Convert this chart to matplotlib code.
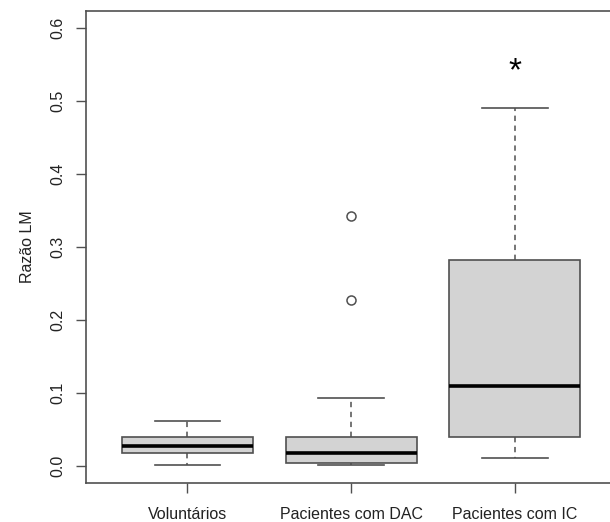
import matplotlib.pyplot as plt

plt.rcParams['font.family'] = ['Liberation Sans', 'DejaVu Sans']

# LM ratio per group (box summaries)
groups = ['Voluntários', 'Pacientes com DAC', 'Pacientes com IC']
whislo = [0.001, 0.001, 0.011]
q1 = [0.018, 0.004, 0.040]
med = [0.028, 0.018, 0.110]
q3 = [0.040, 0.040, 0.282]
whishi = [0.062, 0.093, 0.491]
fliers = [[], [0.228, 0.343], []]

# significance mark
star_group = 3
star_y = 0.55

stats = []
for i in range(len(groups)):
    stats.append(dict(label=groups[i], whislo=whislo[i], q1=q1[i], med=med[i],
                      q3=q3[i], whishi=whishi[i], fliers=fliers[i]))

edge = '#505050'
fig = plt.figure(figsize=(6.1, 5.22), dpi=100)
ax = fig.add_axes([0.1407, 0.0738, 0.870, 0.9055])

ax.bxp(stats, positions=[1, 2, 3], widths=0.8, capwidths=0.4,
       patch_artist=True,
       boxprops=dict(facecolor='#d3d3d3', edgecolor=edge, linewidth=1.2),
       medianprops=dict(color='black', linewidth=2.6, solid_capstyle='butt'),
       whiskerprops=dict(color=edge, linewidth=1.1, linestyle=(0, (3.5, 3))),
       capprops=dict(color=edge, linewidth=1.2),
       flierprops=dict(marker='o', markerfacecolor='none', markeredgecolor=edge,
                       markersize=6.5, markeredgewidth=1.1))

# the "*" glyph sits high in its text box, so nudge it down onto the value
ax.annotate('*', xy=(star_group, star_y), xytext=(0, -5),
            textcoords='offset points', ha='center', va='center',
            fontsize=24, color='black')

ax.set_xlim(0.38, 3.62)
ax.set_ylim(-0.024, 0.624)
ax.set_yticks([0.0, 0.1, 0.2, 0.3, 0.4, 0.5, 0.6])
ax.set_yticklabels(['0.0', '0.1', '0.2', '0.3', '0.4', '0.5', '0.6'],
                   rotation=90, va='center')
ax.set_xticks([1, 2, 3])
ax.set_xticklabels(groups)
ax.tick_params(axis='both', length=7, width=1, color=edge, labelsize=11.5,
               labelcolor='#222222')
ax.tick_params(axis='x', pad=10)
ax.tick_params(axis='y', pad=8)
for s in ax.spines.values():
    s.set_color(edge)
    s.set_linewidth(1.2)

fig.text(0.045, 0.527, 'Razão LM', rotation=90, ha='center', va='center',
         fontsize=11.5, color='#222222')

plt.savefig('out.png', dpi=100)
